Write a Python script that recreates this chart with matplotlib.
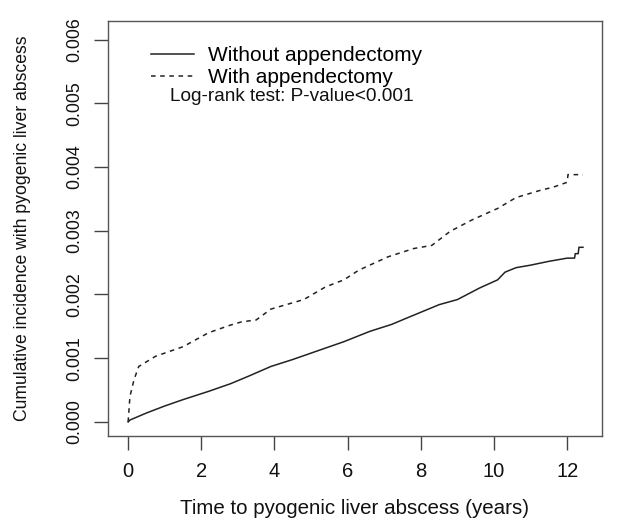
import matplotlib
matplotlib.use("Agg")
import matplotlib.pyplot as plt
import numpy as np

plt.rcParams['font.family'] = ['Liberation Sans', 'DejaVu Sans']

# Cumulative incidence (years, incidence)
years_without = [0, 0.05, 0.5, 1.0, 1.5, 2.2, 2.8, 3.3, 3.9, 4.5, 5.2, 5.9, 6.6, 7.2, 7.7,
                 8.5, 9.0, 9.6, 10.1, 10.3, 10.6, 11.0, 11.5, 12.0, 12.2, 12.22, 12.3, 12.32, 12.43]
inc_without = [0, 0.00003, 0.00014, 0.00025, 0.00035, 0.00048, 0.0006, 0.00072, 0.00087,
               0.00098, 0.00112, 0.00126, 0.00142, 0.00153, 0.00165, 0.00184, 0.00192,
               0.0021, 0.00223, 0.00235, 0.00242, 0.00246, 0.00252, 0.00257, 0.00257,
               0.00264, 0.00264, 0.00274, 0.00274]

years_with = [0, 0.05, 0.16, 0.29, 0.75, 1.5, 2.2, 2.8, 3.1, 3.5, 3.9, 4.8, 5.4, 5.9, 6.3,
              7.1, 7.8, 8.3, 8.8, 9.4, 10.1, 10.6, 11.3, 11.6, 12.0, 12.02, 12.43]
inc_with = [0, 0.0004, 0.00066, 0.00087, 0.00103, 0.00118, 0.0014, 0.00152, 0.00157, 0.0016,
            0.00177, 0.00192, 0.00212, 0.00223, 0.00238, 0.00259, 0.00272, 0.00277, 0.00299,
            0.00317, 0.00335, 0.00352, 0.00364, 0.00368, 0.00376, 0.00388, 0.00388]

x_ticks = [0, 2, 4, 6, 8, 10, 12]
y_ticks = [0.000, 0.001, 0.002, 0.003, 0.004, 0.005, 0.006]
y_labels = ["0.000", "0.001", "0.002", "0.003", "0.004", "0.005", "0.006"]

fig = plt.figure(figsize=(6.21, 5.19), dpi=100)
ax = fig.add_axes([0.1739, 0.160, 0.7955, 0.7995])

ax.plot(years_without, inc_without, color="#222222", lw=1.1, ls="-",
        label="Without appendectomy")
ax.plot(years_with, inc_with, color="#222222", lw=1.1, ls=(0, (3, 3)),
        label="With appendectomy")

ax.set_xlim(-0.55, 12.95)
ax.set_ylim(-0.00022, 0.00629)
ax.set_xticks(x_ticks)
ax.set_yticks(y_ticks)
ax.set_yticklabels(y_labels, rotation=90, va="center")
ax.tick_params(axis="both", length=10, width=1, color="#444444", labelcolor="#111111")
ax.tick_params(axis="x", labelsize=14.5, pad=9)
ax.tick_params(axis="y", labelsize=12.8, pad=8)
for sp in ax.spines.values():
    sp.set_color("#555555")
    sp.set_linewidth(1)

ax.set_xlabel("Time to pyogenic liver abscess (years)", fontsize=14.8, labelpad=13,
              color="#111111")
ax.set_ylabel("Cumulative incidence with pyogenic liver abscess", fontsize=12.7,
              labelpad=25, color="#111111")

leg = ax.legend(loc="upper left", bbox_to_anchor=(0.07, 0.96), frameon=False, fontsize=15,
                handlelength=2.07, handletextpad=0.67, labelspacing=0.15, borderaxespad=0)
ax.text(0.125, 0.817, "Log-rank test: P-value<0.001", transform=ax.transAxes,
        fontsize=13.7, color="#111111", va="center", ha="left")

fig.savefig("out.png", dpi=100)
